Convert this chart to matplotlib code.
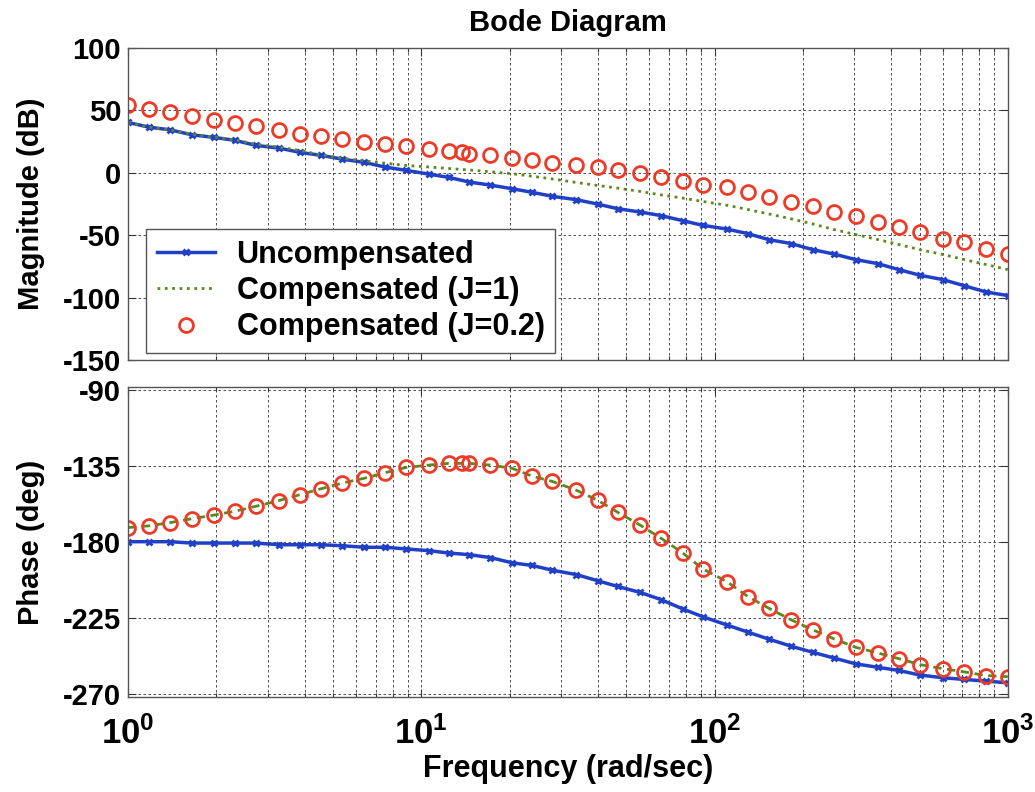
import matplotlib
matplotlib.use("Agg")
import matplotlib.pyplot as plt
from matplotlib.ticker import LogLocator, NullFormatter, FixedLocator

# frequency grid (rad/sec)
freq_comp = [1.0, 1.18, 1.39, 1.65, 1.97, 2.32, 2.73, 3.28, 3.86, 4.56, 5.37, 6.39, 7.54,
             8.89, 10.6, 12.4, 13.8, 14.6, 17.2, 20.4, 23.9, 28.0, 33.8, 39.9, 46.7, 55.9,
             65.9, 77.8, 91.0, 110, 130, 153, 183, 216, 255, 303, 360, 425, 501, 600, 708,
             841, 1000]
freq_unc = [1.0, 1.18, 1.39, 1.65, 1.97, 2.32, 2.73, 3.28, 3.86, 4.56, 5.37, 6.39, 7.54,
            8.89, 10.6, 12.4, 14.6, 17.2, 20.4, 23.9, 28.0, 33.8, 39.9, 46.7, 55.9,
            65.9, 77.8, 91.0, 110, 130, 153, 183, 216, 255, 303, 360, 425, 501, 600, 708,
            841, 1000]

# magnitude (dB)
mag_unc = [40.3, 36.5, 34.4, 30.4, 28.3, 25.9, 21.9, 19.7, 16.3, 13.9, 10.9, 8.3, 4.5,
           1.9, -1.1, -3.7, -7.5, -9.9, -12.8, -15.7, -18.9, -21.6, -25.1, -28.8, -31.5,
           -34.4, -38.4, -42.1, -45.1, -48.8, -53.6, -56.8, -61.6, -65.1, -69.6, -72.8,
           -77.6, -82.1, -85.6, -90.4, -95.5, -98.4]
mag_j1 = [40.3, 36.5, 34.4, 30.8, 28.6, 26.3, 22.8, 20.5, 17.8, 14.2, 11.6, 9.6, 7.6,
          5.8, 4.6, 3.4, 2.6, 2.2, 0.8, -0.8, -2.8, -5.0, -7.8, -10.2, -12.3, -15.0,
          -17.8, -20.3, -23.0, -26.0, -29.5, -33.0, -37.0, -41.0, -45.5, -49.5, -53.5,
          -57.5, -61.6, -65.5, -69.5, -73.5, -77.6]
mag_j02 = [53.9, 50.9, 48.5, 45.6, 42.4, 39.7, 37.6, 33.9, 31.2, 29.1, 26.9, 24.3, 23.2,
           21.1, 18.9, 17.1, 16.3, 15.2, 13.9, 11.7, 10.4, 7.7, 5.9, 4.5, 2.4, -0.3,
           -3.7, -6.4, -9.6, -11.7, -15.5, -19.7, -23.5, -26.9, -31.5, -34.9, -39.5,
           -43.5, -47.7, -52.8, -55.7, -60.8, -65.1]

# phase (deg)
ph_unc = [-180.0, -180.0, -180.0, -180.8, -180.8, -180.8, -180.8, -181.8, -181.8, -181.8,
          -182.4, -183.3, -183.3, -184.3, -185.3, -186.7, -187.7, -189.4, -192.5, -194.1,
          -196.9, -199.5, -203.1, -206.5, -210.1, -214.4, -219.8, -224.4, -229.3, -233.6,
          -237.7, -242.0, -245.5, -248.9, -252.4, -254.4, -256.3, -259.0, -260.6, -261.6,
          -262.6, -263.6]
ph_j1 = [-171.6, -170.6, -168.7, -166.4, -164.2, -161.9, -159.0, -155.6, -152.1, -148.6,
         -145.3, -142.4, -139.1, -136.0, -134.6, -133.6, -133.6, -133.6, -134.6, -136.5,
         -141.2, -144.3, -149.5, -155.4, -162.5, -170.3, -178.1, -186.6, -196.0, -203.6,
         -212.5, -219.4, -226.4, -232.2, -237.5, -242.6, -245.9, -249.3, -252.8, -255.2,
         -257.1, -259.3, -260.0]
ph_j02 = [-171.6, -170.6, -168.7, -166.4, -164.2, -161.9, -159.0, -155.6, -152.1, -148.6,
          -145.3, -142.4, -139.1, -136.0, -134.6, -133.6, -133.6, -133.6, -134.6, -136.5,
          -141.2, -144.3, -149.5, -155.4, -162.5, -170.3, -178.1, -186.6, -196.0, -203.6,
          -212.5, -219.4, -226.4, -232.2, -237.5, -242.6, -245.9, -249.3, -252.8, -255.2,
          -257.1, -259.3, -260.0]

labels = ["Uncompensated", "Compensated (J=1)", "Compensated (J=0.2)"]
mag_ticks = [100, 50, 0, -50, -100, -150]
phase_ticks = [-90, -135, -180, -225, -270]
xtick_vals = [1, 10, 100, 1000]
xtick_labels = [r"$\mathbf{10^{0}}$", r"$\mathbf{10^{1}}$", r"$\mathbf{10^{2}}$", r"$\mathbf{10^{3}}$"]

BLUE = "#2140c8"
GREEN = "#5a8a1e"
RED = "#ee3b28"


def style_axis(ax):
    """ MATLAB-like look: inward ticks on all sides, dashed grid. """
    ax.set_xscale("log")
    ax.set_xlim(1, 1000)
    ax.xaxis.set_major_locator(FixedLocator(xtick_vals))
    ax.xaxis.set_minor_locator(LogLocator(base=10, subs=range(2, 10)))
    ax.xaxis.set_minor_formatter(NullFormatter())
    ax.tick_params(which="both", direction="in", top=True, right=True,
                   labelsize=21, width=0.8, color="#333333")
    ax.tick_params(which="major", length=6)
    ax.tick_params(which="minor", length=3)
    ax.tick_params(axis="y", pad=5)
    ax.grid(True, which="major", linestyle=(0, (3, 3)), color="#333333", linewidth=0.6)
    ax.grid(True, which="minor", axis="x", linestyle=(0, (3, 3)), color="#333333", linewidth=0.6)
    for sp in ax.spines.values():
        sp.set_color("#555555")
        sp.set_linewidth(1.0)
    for lab in ax.get_yticklabels():
        lab.set_fontweight("bold")


def main():
    plt.rcParams["font.family"] = ["Liberation Sans", "DejaVu Sans"]
    plt.rcParams["font.weight"] = "bold"
    plt.rcParams["axes.unicode_minus"] = False
    plt.rcParams["mathtext.fontset"] = "custom"
    plt.rcParams["mathtext.bf"] = "Liberation Sans:bold"
    plt.rcParams["mathtext.rm"] = "Liberation Sans:bold"

    fig = plt.figure(figsize=(10.35, 7.92), dpi=100)
    ax1 = fig.add_axes([0.1237, 0.5455, 0.850, 0.394])
    ax2 = fig.add_axes([0.1237, 0.1200, 0.850, 0.3910])

    # magnitude
    ax1.plot(freq_unc, mag_unc, color=BLUE, linewidth=2.5, marker="x", markersize=4.5,
             markeredgewidth=2, label=labels[0])
    ax1.plot(freq_comp, mag_j1, color=GREEN, linewidth=2, linestyle=":", label=labels[1])
    ax1.plot(freq_comp, mag_j02, linestyle="none", marker="o", markersize=10,
             markerfacecolor="none", markeredgecolor=RED, markeredgewidth=2, label=labels[2])
    ax1.set_ylim(-150, 100)
    ax1.set_yticks(mag_ticks)
    style_axis(ax1)
    ax1.set_xticklabels([])
    ax1.set_ylabel("Magnitude (dB)", fontsize=21, fontweight="bold")
    ax1.set_title("Bode Diagram", fontsize=21, fontweight="bold", pad=12)

    leg = ax1.legend(loc="lower left", bbox_to_anchor=(0.014, 0.003), fontsize=22,
                     handlelength=1.9, handletextpad=0.7, labelspacing=0.2,
                     borderpad=0.35, borderaxespad=0.2, fancybox=False, framealpha=1,
                     edgecolor="#555555")
    leg.get_frame().set_linewidth(1.0)
    for txt in leg.get_texts():
        txt.set_fontweight("bold")

    # phase
    ax2.plot(freq_unc, ph_unc, color=BLUE, linewidth=2.5, marker="x", markersize=4.5,
             markeredgewidth=2)
    ax2.plot(freq_comp, ph_j1, color=GREEN, linewidth=2, linestyle=(0, (3, 2)))
    ax2.plot(freq_comp, ph_j02, linestyle="none", marker="o", markersize=10,
             markerfacecolor="none", markeredgecolor=RED, markeredgewidth=2)
    ax2.set_ylim(-272, -88.5)
    ax2.set_yticks(phase_ticks)
    style_axis(ax2)
    ax2.set_xticklabels(xtick_labels, fontsize=25)
    ax2.tick_params(axis="x", which="major", pad=14)
    ax2.set_ylabel("Phase (deg)", fontsize=21, fontweight="bold")
    ax2.set_xlabel("Frequency (rad/sec)", fontsize=22, fontweight="bold", labelpad=2)

    # align y labels like the original
    ax1.yaxis.set_label_coords(-0.094, 0.5)
    ax2.yaxis.set_label_coords(-0.094, 0.5)

    fig.savefig("out.png", dpi=100)


if __name__ == "__main__":
    main()
